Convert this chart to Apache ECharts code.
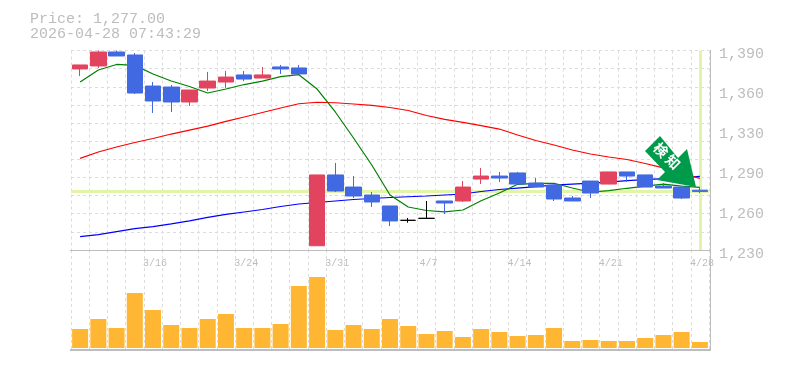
<!DOCTYPE html>
<html><head><meta charset="utf-8">
<style>html,body{margin:0;padding:0;background:#fff}#c{width:785px;height:370px}</style>
<script src="https://cdn.jsdelivr.net/npm/echarts@6/dist/echarts.min.js"></script>
</head><body><div id="c"></div>
<script>
const categories=['3/10','3/11','3/12','3/13','3/16','3/17','3/18','3/19','3/23','3/24','3/25','3/26','3/27','3/30','3/31','4/1','4/2','4/3','4/6','4/7','4/8','4/9','4/10','4/13','4/14','4/15','4/16','4/17','4/20','4/21','4/22','4/23','4/24','4/27','4/28'];
const opens=[1375.2,1377.6,1388.8,1386.4,1361.5,1360.7,1348.7,1359.9,1364.7,1370.4,1367.9,1376.8,1376,1233.4,1290.2,1280.5,1274.1,1265.3,1253.8,1255.4,1269.3,1269.3,1286.9,1289.3,1291.8,1283.7,1282.1,1271.7,1285.3,1282.9,1292.6,1290.2,1281.3,1280.5,1278];
const closes=[1378.4,1388.8,1385.6,1355.9,1349.5,1348.7,1358.3,1365.5,1368.7,1367.1,1370.4,1375.2,1371.2,1290.2,1277.3,1273.3,1268.5,1253.3,1253.8,1255.4,1267.7,1280.5,1289.3,1287.7,1282.9,1280.5,1270.9,1269.3,1275.7,1292.6,1289.3,1280.5,1279.7,1271.7,1277];
const lows=[1369.5,1376,1385.6,1355.1,1339.9,1340.7,1345.5,1357.5,1359.9,1365.5,1367.9,1371.2,1371.2,1233.4,1276.5,1271.7,1264.5,1249.2,1251.9,1255.4,1258.9,1268.5,1282.9,1284.5,1282.9,1280.5,1269.3,1269.3,1271.7,1282.9,1284.5,1280.5,1279.7,1270.9,1275.7];
const highs=[1378.4,1390,1390,1388,1364.7,1362.3,1358.3,1372.8,1373.6,1373.6,1376.8,1378.4,1378.4,1290.2,1299.8,1289.3,1276.5,1265.3,1255.7,1269.3,1269.3,1285.3,1295.8,1292.6,1292.6,1287.7,1282.1,1273.3,1285.3,1292.6,1292.6,1290.2,1283.7,1280.5,1280.5];
const maShort=[1364.7,1374.4,1378.8,1378.1,1371.2,1365.5,1361.1,1355.9,1359.1,1362.7,1365.5,1369.1,1370.6,1359.1,1340.7,1319.8,1298.2,1274.1,1264.5,1261.7,1260.5,1262.1,1269.5,1275.7,1282.7,1283.5,1283.5,1279.7,1276.3,1277.6,1279.5,1281.3,1282.9,1281.3,1280.3];
const maMid=[1303.5,1308.6,1312.6,1316.2,1319.4,1323,1326.2,1329.4,1333.1,1336.7,1340.3,1343.9,1347.3,1348.5,1348.1,1347.1,1346,1344.3,1341.9,1337.9,1334.7,1332.3,1329.8,1327,1322.2,1317.8,1314.2,1310.2,1307,1304.6,1302.6,1299.4,1295.8,1291.4,1287.5];
const maLong=[1240.7,1242.4,1244.8,1247.2,1248.8,1250.9,1253.3,1256.1,1258.5,1260.5,1262.5,1264.9,1266.9,1268.1,1269.3,1270.5,1271.3,1272.1,1272.7,1273.3,1274.1,1274.9,1276.9,1278.5,1279.7,1280.9,1282.1,1282.9,1283.7,1284.5,1285.7,1286.5,1287.3,1288.1,1289.1];
const volumes=[190,290,200,550,380,230,200,290,340,200,200,240,620,710,180,230,190,290,220,140,170,110,190,160,120,130,200,70,80,70,70,100,130,160,60];
const priceTicks=[1230,1262,1294,1326,1358,1390];
const lastPrice=1277;
const stamp='2026-04-28 07:43:29';
const signalChars=['検','知'];

const gray='#bdbdbd',grid='#dcdcdc',mono='"Liberation Mono",monospace';
const up='#e2445f',down='#4169e1',vol='#ffb733',hl='#e2f4a8',arrow='#009b4a';
const candle=categories.map((c,i)=>[opens[i],closes[i],lows[i],highs[i]]);
const dash={color:grid,type:[3,3],width:1};
const hidden={axisLine:{show:false},axisTick:{show:false}};
const G=[{left:71,width:638,top:50.5,height:199.5},{left:71,width:638,top:250,height:100},{left:73,width:638,top:54.5,height:199.5}];
const line=(d,c)=>({type:'line',data:d,xAxisIndex:0,yAxisIndex:0,showSymbol:false,symbol:'none',silent:true,z:2,lineStyle:{color:c,width:1.2}});
const pts=[[660,136],[645,151],[665,172],[657,180],[696,187],[687,149],[678,158]];
const chart=echarts.init(document.getElementById('c'),null,{renderer:'canvas'});
chart.setOption({
 animation:false,backgroundColor:'#fff',
 grid:G,
 title:{left:25,top:7,text:'Price: '+lastPrice.toLocaleString('en-US',{minimumFractionDigits:2})+'\n'+stamp,
   textStyle:{color:gray,fontFamily:mono,fontSize:15,fontWeight:'normal',lineHeight:15}},
 xAxis:[
  {gridIndex:0,type:'category',data:categories,boundaryGap:true,...hidden,axisLabel:{show:false},
   splitLine:{show:true,interval:0,lineStyle:dash}},
  {gridIndex:1,type:'category',data:categories,boundaryGap:true,...hidden,axisLabel:{show:false},
   splitLine:{show:true,interval:0,lineStyle:dash}},
  {gridIndex:2,type:'category',data:categories,boundaryGap:true,...hidden,splitLine:{show:false},
   axisLabel:{show:true,interval:(i)=>i%5===4,color:gray,fontFamily:mono,fontSize:10,margin:4,hideOverlap:false}}
 ],
 yAxis:[
  {gridIndex:0,type:'value',min:1230,max:1390,...hidden,splitLine:{show:false},axisLabel:{show:false}},
  {gridIndex:1,type:'value',min:-20,max:980,...hidden,axisLabel:{show:false},splitLine:{show:false}},
  {gridIndex:0,type:'value',min:0,max:11,interval:1,...hidden,axisLabel:{show:false},splitLine:{show:true,lineStyle:dash}},
  {gridIndex:2,type:'value',position:'right',min:1230,max:1390,...hidden,splitLine:{show:false},
   axisLabel:{color:gray,fontFamily:mono,fontSize:15,margin:8,showMinLabel:true,showMaxLabel:true,customValues:priceTicks,
     formatter:v=>(Math.round(v/10)*10).toLocaleString('en-US')}}
 ],
 series:[
  {type:'line',data:[],xAxisIndex:0,yAxisIndex:0,z:1,silent:true,
   markLine:{silent:true,z:1,symbol:'none',animation:false,label:{show:false},
     lineStyle:{color:hl,width:3,type:'solid'},
     data:[{yAxis:lastPrice},{xAxis:categories[categories.length-1]}]}},
  line(maLong,'#0000ff'),line(maMid,'#ff0000'),line(maShort,'#008000'),
  {type:'candlestick',data:candle,xAxisIndex:0,yAxisIndex:0,barWidth:16,z:3,silent:true,
   itemStyle:{color:up,color0:down,borderColor:up,borderColor0:down,borderColorDoji:'#000',borderWidth:1}},
  {type:'bar',data:volumes,xAxisIndex:1,yAxisIndex:1,barWidth:16,silent:true,z:3,itemStyle:{color:vol}}
 ],
 graphic:[
  {type:'line',z:50,shape:{x1:70,y1:250.5,x2:710,y2:250.5},style:{stroke:gray,lineWidth:1}},
  {type:'line',z:50,shape:{x1:70,y1:350,x2:711,y2:350},style:{stroke:gray,lineWidth:2}},
  {type:'line',z:50,shape:{x1:710.5,y1:50,x2:710.5,y2:350},style:{stroke:gray,lineWidth:1}},
  {type:'polygon',z:60,shape:{points:pts},style:{fill:arrow}},
  {type:'text',z:61,x:661,y:150,rotation:-Math.PI/4,style:{text:signalChars[0],fill:'#fff',font:'bold 14px "Noto Sans CJK JP"',align:'center',verticalAlign:'middle'}},
  {type:'text',z:61,x:673,y:162,rotation:-Math.PI/4,style:{text:signalChars[1],fill:'#fff',font:'bold 14px "Noto Sans CJK JP"',align:'center',verticalAlign:'middle'}}
 ]
});
</script></body></html>
